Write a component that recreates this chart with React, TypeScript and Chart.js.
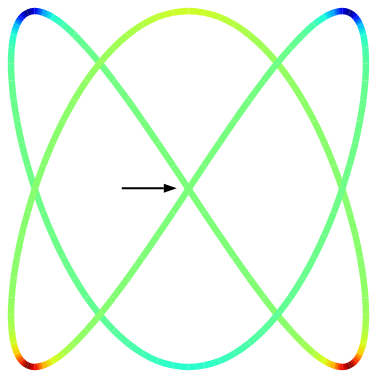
import React, { useEffect, useRef } from "react";
import { Chart, registerables } from "chart.js";

Chart.register(...registerables);

// Curve samples (every 2.5 degrees of the parameter)
const xValues = [
  0, 0.087, 0.174, 0.259, 0.342, 0.423, 0.5, 0.574, 0.643, 0.707, 0.766, 0.819,
  0.866, 0.906, 0.94, 0.966, 0.985, 0.996, 1, 0.996, 0.985, 0.966, 0.94, 0.906,
  0.866, 0.819, 0.766, 0.707, 0.643, 0.574, 0.5, 0.423, 0.342, 0.259, 0.174, 0.087,
  0, -0.087, -0.174, -0.259, -0.342, -0.423, -0.5, -0.574, -0.643, -0.707, -0.766, -0.819,
  -0.866, -0.906, -0.94, -0.966, -0.985, -0.996, -1, -0.996, -0.985, -0.966, -0.94, -0.906,
  -0.866, -0.819, -0.766, -0.707, -0.643, -0.574, -0.5, -0.423, -0.342, -0.259, -0.174, -0.087,
  0, 0.087, 0.174, 0.259, 0.342, 0.423, 0.5, 0.574, 0.643, 0.707, 0.766, 0.819,
  0.866, 0.906, 0.94, 0.966, 0.985, 0.996, 1, 0.996, 0.985, 0.966, 0.94, 0.906,
  0.866, 0.819, 0.766, 0.707, 0.643, 0.574, 0.5, 0.423, 0.342, 0.259, 0.174, 0.087,
  0, -0.087, -0.174, -0.259, -0.342, -0.423, -0.5, -0.574, -0.643, -0.707, -0.766, -0.819,
  -0.866, -0.906, -0.94, -0.966, -0.985, -0.996, -1, -0.996, -0.985, -0.966, -0.94, -0.906,
  -0.866, -0.819, -0.766, -0.707, -0.643, -0.574, -0.5, -0.423, -0.342, -0.259, -0.174, -0.087,
];

const yValues = [
  1, 0.991, 0.966, 0.924, 0.866, 0.793, 0.707, 0.609, 0.5, 0.383, 0.259, 0.131,
  0, -0.131, -0.259, -0.383, -0.5, -0.609, -0.707, -0.793, -0.866, -0.924, -0.966, -0.991,
  -1, -0.991, -0.966, -0.924, -0.866, -0.793, -0.707, -0.609, -0.5, -0.383, -0.259, -0.131,
  0, 0.131, 0.259, 0.383, 0.5, 0.609, 0.707, 0.793, 0.866, 0.924, 0.966, 0.991,
  1, 0.991, 0.966, 0.924, 0.866, 0.793, 0.707, 0.609, 0.5, 0.383, 0.259, 0.131,
  0, -0.131, -0.259, -0.383, -0.5, -0.609, -0.707, -0.793, -0.866, -0.924, -0.966, -0.991,
  -1, -0.991, -0.966, -0.924, -0.866, -0.793, -0.707, -0.609, -0.5, -0.383, -0.259, -0.131,
  0, 0.131, 0.259, 0.383, 0.5, 0.609, 0.707, 0.793, 0.866, 0.924, 0.966, 0.991,
  1, 0.991, 0.966, 0.924, 0.866, 0.793, 0.707, 0.609, 0.5, 0.383, 0.259, 0.131,
  0, -0.131, -0.259, -0.383, -0.5, -0.609, -0.707, -0.793, -0.866, -0.924, -0.966, -0.991,
  -1, -0.991, -0.966, -0.924, -0.866, -0.793, -0.707, -0.609, -0.5, -0.383, -0.259, -0.131,
  0, 0.131, 0.259, 0.383, 0.5, 0.609, 0.707, 0.793, 0.866, 0.924, 0.966, 0.991,
];

// Colour value at each sample (signed curvature)
const curvature = [
  -2.25, -2.14, -1.861, -1.52, -1.201, -0.941, -0.743, -0.598, -0.495, -0.422, -0.373, -0.342,
  -0.329, -0.331, -0.352, -0.398, -0.482, -0.628, -0.889, -1.38, -2.36, -4.376, -8.0, -11.088,
  -9.0, -5.027, -2.597, -1.408, -0.82, -0.508, -0.33, -0.221, -0.149, -0.098, -0.06, -0.028,
  0, 0.028, 0.06, 0.098, 0.149, 0.221, 0.33, 0.508, 0.82, 1.408, 2.597, 5.027,
  9.0, 11.088, 8.0, 4.376, 2.36, 1.38, 0.889, 0.628, 0.482, 0.398, 0.352, 0.331,
  0.329, 0.342, 0.373, 0.422, 0.495, 0.598, 0.743, 0.941, 1.201, 1.52, 1.861, 2.14,
  2.25, 2.14, 1.861, 1.52, 1.201, 0.941, 0.743, 0.598, 0.495, 0.422, 0.373, 0.342,
  0.329, 0.331, 0.352, 0.398, 0.482, 0.628, 0.889, 1.38, 2.36, 4.376, 8.0, 11.088,
  9.0, 5.027, 2.597, 1.408, 0.82, 0.508, 0.33, 0.221, 0.149, 0.098, 0.06, 0.028,
  0, -0.028, -0.06, -0.098, -0.149, -0.221, -0.33, -0.508, -0.82, -1.408, -2.597, -5.027,
  -9.0, -11.088, -8.0, -4.376, -2.36, -1.38, -0.889, -0.628, -0.482, -0.398, -0.352, -0.331,
  -0.329, -0.342, -0.373, -0.422, -0.495, -0.598, -0.743, -0.941, -1.201, -1.52, -1.861, -2.14,
];

// Arrow annotation (data coordinates)
const arrowTail = { x: -0.376, y: 0.004 };
const arrowHead = { x: -0.066, y: 0.004 };

function interp(v: number, pts: number[][]) {
  for (let i = 0; i < pts.length - 1; i++) {
    const [a, va] = pts[i];
    const [b, vb] = pts[i + 1];
    if (v >= a && v <= b) return va + ((v - a) / (b - a)) * (vb - va);
  }
  return v < pts[0][0] ? pts[0][1] : pts[pts.length - 1][1];
}

function jet(v: number) {
  const t = Math.max(0, Math.min(1, v));
  const r = interp(t, [[0, 0], [0.35, 0], [0.66, 1], [0.89, 1], [1, 0.5]]);
  const g = interp(t, [[0, 0], [0.125, 0], [0.375, 1], [0.64, 1], [0.91, 0], [1, 0]]);
  const b = interp(t, [[0, 0.5], [0.11, 1], [0.34, 1], [0.65, 0], [1, 0]]);
  return `rgb(${Math.round(r * 255)},${Math.round(g * 255)},${Math.round(b * 255)})`;
}

const arrowPlugin = {
  id: "arrowAnnotation",
  afterDatasetsDraw(chart: any) {
    const { ctx, scales } = chart;
    const x0 = scales.x.getPixelForValue(arrowTail.x);
    const y0 = scales.y.getPixelForValue(arrowTail.y);
    const x1 = scales.x.getPixelForValue(arrowHead.x);
    const y1 = scales.y.getPixelForValue(arrowHead.y);
    const ang = Math.atan2(y1 - y0, x1 - x0);
    const headLen = 13;
    const headHalf = 4.5;
    ctx.save();
    ctx.strokeStyle = "#000";
    ctx.fillStyle = "#000";
    ctx.lineWidth = 2;
    ctx.beginPath();
    ctx.moveTo(x0, y0);
    ctx.lineTo(x1 - headLen * Math.cos(ang), y1 - headLen * Math.sin(ang));
    ctx.stroke();
    ctx.beginPath();
    ctx.moveTo(x1, y1);
    ctx.lineTo(
      x1 - headLen * Math.cos(ang) + headHalf * Math.sin(ang),
      y1 - headLen * Math.sin(ang) - headHalf * Math.cos(ang)
    );
    ctx.lineTo(
      x1 - headLen * Math.cos(ang) - headHalf * Math.sin(ang),
      y1 - headLen * Math.sin(ang) + headHalf * Math.cos(ang)
    );
    ctx.closePath();
    ctx.fill();
    ctx.restore();
  },
};

export default function App() {
  const ref = useRef<HTMLCanvasElement>(null);

  useEffect(() => {
    document.body.style.margin = "0";
    const canvas = ref.current;
    if (!canvas) return;
    const g2d = canvas.getContext("2d") as CanvasRenderingContext2D;
    const n = xValues.length;
    const order = [n - 1, ...xValues.map((_, i) => i), 0, 1];
    const data = order.map((i) => ({ x: xValues[i], y: yValues[i] }));
    const kap = order.map((i) => curvature[i]);
    const colorLimit = Math.max(...curvature.map((k) => Math.abs(k)));
    const toV = (k: number) => (colorLimit - k) / (2 * colorLimit);

    const chart = new Chart(canvas, {
      type: "scatter",
      data: {
        datasets: [
          {
            data,
            showLine: true,
            pointRadius: 0,
            pointHoverRadius: 0,
            borderWidth: 6.5,
            tension: 0.4,
            clip: false as any,
            segment: {
              borderColor: (c: any) => {
                const a = c.p0DataIndex;
                const b = c.p1DataIndex;
                if (a === 0 || a === data.length - 2) return "rgba(0,0,0,0)";
                const grad = g2d.createLinearGradient(c.p0.x, c.p0.y, c.p1.x, c.p1.y);
                grad.addColorStop(0, jet(toV(kap[a])));
                grad.addColorStop(1, jet(toV(kap[b])));
                return grad as any;
              },
            },
          } as any,
        ],
      },
      options: {
        animation: false,
        responsive: false,
        events: [],
        elements: { line: { capBezierPoints: false } },
        layout: { padding: { left: 11, right: 8, top: 11, bottom: 13 } },
        plugins: {
          legend: { display: false },
          tooltip: { enabled: false },
        },
        scales: {
          x: { type: "linear", display: false, min: -1, max: 1 },
          y: { type: "linear", display: false, min: -1, max: 1 },
        },
      },
      plugins: [arrowPlugin],
    });
    return () => chart.destroy();
  }, []);

  return <canvas ref={ref} width={374} height={380} style={{ display: "block" }} />;
}
